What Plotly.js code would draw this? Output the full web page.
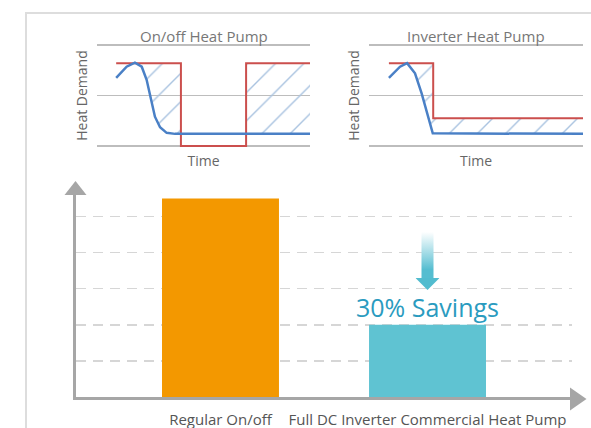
<!DOCTYPE html>
<html><head><meta charset="utf-8">
<script src="https://cdn.plot.ly/plotly-3.0.1.min.js"></script>
<style>html,body{margin:0;padding:0;background:#fff;overflow:hidden;}#chart{width:591px;height:428px;}</style>
</head><body><div id="chart"></div>
<script>
// ---- Main comparison (energy use, arbitrary units) ----
const categories = ['Regular On/off', 'Full DC Inverter Commercial Heat Pump'];
const energyUse = [5.5, 2.0];
const barColors = ['#F39800', '#5FC3D2'];
const savingsLabel = '30% Savings';
const gridVals = [1, 2, 3, 4, 5];

// ---- Small panel titles ----
const panelTitles = ['On/off Heat Pump', 'Inverter Heat Pump'];

// ---- On/off heat pump panel (time 0-10, heat demand 0-2) ----
const onoffRedX = [0.9, 3.94, 3.94, 7.0, 7.0, 10];
const onoffRedY = [1.64, 1.64, 0, 0, 1.64, 1.64];
const onoffBlueX = [0.9, 1.39, 1.78, 2.10, 2.33, 2.49, 2.72, 2.96, 3.27, 3.66, 10];
const onoffBlueY = [1.35, 1.57, 1.65, 1.57, 1.31, 0.98, 0.58, 0.37, 0.26, 0.24, 0.24];

// ---- Inverter heat pump panel ----
const invRedX = [0.93, 3.0, 3.0, 10];
const invRedY = [1.64, 1.64, 0.55, 0.55];
const invBlueX = [0.93, 1.45, 1.78, 2.15, 2.46, 2.77, 2.98, 10];
const invBlueY = [1.35, 1.57, 1.64, 1.44, 1.04, 0.58, 0.25, 0.24];
const demandGrid = [0, 1, 2];

const W = 591, H = 428;
const P = px => px / W;
const Q = py => 1 - py / H;
const FONT = 'Open Sans';

function valAt(xs, ys, x, side) {
  const n = xs.length;
  if (side === 'R') {
    for (let i = 0; i < n - 1; i++) {
      if (xs[i] <= x && x < xs[i + 1]) {
        const t = (x - xs[i]) / (xs[i + 1] - xs[i]);
        return ys[i] + t * (ys[i + 1] - ys[i]);
      }
    }
    return ys[n - 1];
  } else {
    for (let i = n - 2; i >= 0; i--) {
      if (xs[i] < x && x <= xs[i + 1]) {
        const t = (x - xs[i]) / (xs[i + 1] - xs[i]);
        return ys[i] + t * (ys[i + 1] - ys[i]);
      }
    }
    return ys[0];
  }
}
// upper envelope = max(red, blue)
function envelope(bx, by, rx, ry) {
  const xs = Array.from(new Set(bx.concat(rx))).sort((a, b) => a - b);
  const ex = [], ey = [];
  for (let k = 0; k < xs.length; k++) {
    const x = xs[k];
    const b = valAt(bx, by, x, 'R');
    const rl = valAt(rx, ry, x, 'L'), rr = valAt(rx, ry, x, 'R');
    ex.push(x); ey.push(Math.max(rl, b));
    if (rr !== rl) { ex.push(x); ey.push(Math.max(rr, b)); }
    if (k < xs.length - 1) {
      const x2 = xs[k + 1];
      const b2 = valAt(bx, by, x2, 'L'), r2 = valAt(rx, ry, x2, 'L');
      const d1 = b - rr, d2 = b2 - r2;
      if (d1 * d2 < 0) {
        const t = d1 / (d1 - d2);
        ex.push(x + t * (x2 - x)); ey.push(rr + t * (r2 - rr));
      }
    }
  }
  return [ex, ey];
}

const RED = '#CB4F4D', BLUE = '#4A80C6';
const hatch = {shape: '/', fgcolor: '#A9C3E0', bgcolor: 'rgba(255,255,255,0)', size: 20, solidity: 0.07};

function panelTraces(bx, by, rx, ry, xa, ya) {
  const [ex, ey] = envelope(bx, by, rx, ry);
  return [
    {type: 'scatter', mode: 'lines', x: bx, y: by, xaxis: xa, yaxis: ya, line: {width: 0}, hoverinfo: 'skip', showlegend: false},
    {type: 'scatter', mode: 'lines', x: ex, y: ey, xaxis: xa, yaxis: ya, line: {width: 0}, fill: 'tonexty',
     fillcolor: 'rgba(255,255,255,0)', fillpattern: hatch, hoverinfo: 'skip', showlegend: false},
    {type: 'scatter', mode: 'lines', x: rx, y: ry, xaxis: xa, yaxis: ya, line: {color: RED, width: 2}, name: 'Heat output', showlegend: false},
    {type: 'scatter', mode: 'lines', x: bx, y: by, xaxis: xa, yaxis: ya, line: {color: BLUE, width: 2.5}, name: 'Heat demand', showlegend: false}
  ];
}

const traces = [
  ...panelTraces(onoffBlueX, onoffBlueY, onoffRedX, onoffRedY, 'x2', 'y2'),
  ...panelTraces(invBlueX, invBlueY, invRedX, invRedY, 'x3', 'y3'),
  {type: 'bar', x: categories, y: energyUse, marker: {color: barColors, line: {width: 0}}, width: 0.565,
   xaxis: 'x', yaxis: 'y', showlegend: false, hoverinfo: 'x+y'}
];

const AX = '#A6A6A6';
const smallX = (d0, d1) => ({domain: [P(d0), P(d1)], range: [0, 10], showgrid: false, zeroline: false, showline: false,
  showticklabels: false, ticks: '', fixedrange: true,
  title: {text: 'Time', font: {family: FONT, size: 14, color: '#666'}, standoff: 9}});
const smallY = (anchor) => ({domain: [Q(147), Q(44)], range: [-0.02, 2.02], tickvals: demandGrid, showticklabels: false, ticks: '',
  showgrid: true, gridcolor: '#BDBDBD', gridwidth: 1.3, zeroline: false, showline: false, fixedrange: true, anchor: anchor,
  title: {text: 'Heat Demand', font: {family: FONT, size: 14, color: '#666'}, standoff: 5}});

const arrowSvg = '<svg xmlns="http://www.w3.org/2000/svg" width="24" height="58" viewBox="0 0 24 58">' +
  '<defs><linearGradient id="g" x1="0" y1="0" x2="0" y2="1">' +
  '<stop offset="0" stop-color="#FFFFFF"/><stop offset="0.55" stop-color="#8DD3E0"/><stop offset="0.8" stop-color="#55BDD0"/></linearGradient></defs>' +
  '<rect x="6" y="0" width="12" height="47" fill="url(#g)"/>' +
  '<polygon points="0,46 24,46 12,58" fill="#52BCCF"/></svg>';

const layout = {
  width: W, height: H,
  margin: {l: 0, r: 0, t: 0, b: 0},
  paper_bgcolor: '#FFFFFF', plot_bgcolor: 'rgba(0,0,0,0)',
  font: {family: FONT, color: '#555'},
  showlegend: false,
  xaxis: {domain: [P(76), P(572)], type: 'category', range: [-0.698, 1.698], anchor: 'y',
    showline: true, linecolor: AX, linewidth: 3, showgrid: false, zeroline: false, ticks: '', fixedrange: true,
    ticklabelstandoff: 7,
    tickfont: {family: FONT, size: 15, color: '#555'}},
  yaxis: {domain: [Q(397), Q(189.5)], range: [0, 5.75], anchor: 'x', tickvals: gridVals, showticklabels: false, ticks: '',
    showgrid: true, gridcolor: '#D6D6D6', gridwidth: 1.5, griddash: '10px,7px', zeroline: false,
    showline: true, linecolor: AX, linewidth: 3, fixedrange: true},
  xaxis2: Object.assign(smallX(97, 310), {anchor: 'y2'}),
  yaxis2: smallY('x2'),
  xaxis3: Object.assign(smallX(369, 583), {anchor: 'y3'}),
  yaxis3: smallY('x3'),
  shapes: [
    {type: 'rect', xref: 'paper', yref: 'paper', x0: P(26), y0: Q(13), x1: P(610), y1: Q(450),
     line: {color: '#DDDDDD', width: 2}, fillcolor: 'rgba(0,0,0,0)', layer: 'below'},
    {type: 'path', xref: 'paper', yref: 'paper', fillcolor: AX, line: {width: 0},
     path: `M ${P(64.5)} ${Q(195)} L ${P(86.5)} ${Q(195)} L ${P(75.5)} ${Q(181)} Z`},
    {type: 'path', xref: 'paper', yref: 'paper', fillcolor: AX, line: {width: 0},
     path: `M ${P(570)} ${Q(387.5)} L ${P(570)} ${Q(410.5)} L ${P(586.5)} ${Q(399)} Z`}
  ],
  images: [{source: 'data:image/svg+xml;charset=utf-8,' + encodeURIComponent(arrowSvg),
    xref: 'paper', yref: 'paper', x: P(415.5), y: Q(232), sizex: 24 / W, sizey: 58 / H,
    xanchor: 'left', yanchor: 'top', sizing: 'stretch', layer: 'above'}],
  annotations: [
    {text: panelTitles[0], xref: 'paper', yref: 'paper', x: P(203.5), y: Q(36), xanchor: 'center', yanchor: 'middle',
     showarrow: false, font: {family: FONT, size: 15, color: '#777'}},
    {text: panelTitles[1], xref: 'paper', yref: 'paper', x: P(476), y: Q(36), xanchor: 'center', yanchor: 'middle',
     showarrow: false, font: {family: FONT, size: 15, color: '#777'}},
    {text: savingsLabel, xref: 'x', yref: 'y', x: 1, y: 2.5, xanchor: 'center', yanchor: 'middle', showarrow: false,
     font: {family: FONT, size: 25, color: '#2A9BBF'}}
  ]
};

Plotly.newPlot('chart', traces, layout, {displayModeBar: false, staticPlot: true});
</script>
</body></html>
